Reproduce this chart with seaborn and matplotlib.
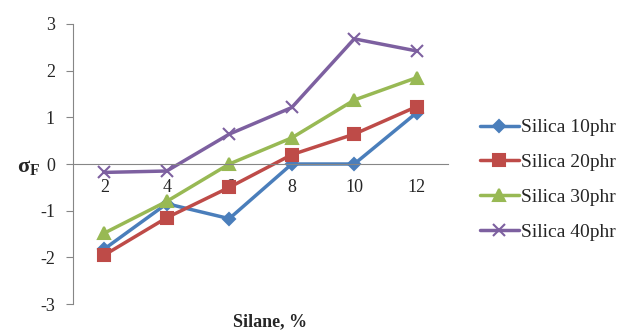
import numpy as np
import pandas as pd
import matplotlib
matplotlib.use("Agg")
import matplotlib.pyplot as plt
import seaborn as sns

sns.set_style("white")
plt.rcParams['font.family'] = ['Liberation Serif', 'DejaVu Serif']
plt.rcParams['axes.unicode_minus'] = False
plt.rcParams['mathtext.fontset'] = 'custom'
plt.rcParams['mathtext.rm'] = 'Liberation Serif'
plt.rcParams['mathtext.it'] = 'Liberation Serif:italic'
plt.rcParams['mathtext.bf'] = 'Liberation Serif:bold'

# --- data ---
silane = [2, 4, 6, 8, 10, 12]
silica_10 = [-1.82, -0.85, -1.17, 0.0, 0.0, 1.1]
silica_20 = [-1.95, -1.15, -0.5, 0.2, 0.64, 1.23]
silica_30 = [-1.48, -0.8, 0.0, 0.56, 1.37, 1.85]
silica_40 = [-0.18, -0.15, 0.64, 1.21, 2.68, 2.42]
series_names = ["Silica 10phr", "Silica 20phr", "Silica 30phr", "Silica 40phr"]

colors = ["#4A7EBB", "#BE4B48", "#98B954", "#7D60A0"]
markers = ["D", "s", "^", "x"]
msizes = [6, 9, 9, 9]

pos = np.arange(len(silane)) + 0.5  # category positions
df = pd.DataFrame({"pos": pos, "Silica 10phr": silica_10, "Silica 20phr": silica_20,
                   "Silica 30phr": silica_30, "Silica 40phr": silica_40})

fig = plt.figure(figsize=(6.24, 3.32), dpi=100)
ax = fig.add_axes([0.117, 0.084, 0.601, 0.844])

for name, c, m, ms in zip(series_names, colors, markers, msizes):
    sns.lineplot(data=df, x="pos", y=name, ax=ax, color=c, marker=m, markersize=ms,
                 markeredgecolor=c, markeredgewidth=1.5, linewidth=2.5, label=name)

ax.set_xlim(0, len(silane))
ax.set_ylim(-3, 3)
ax.set_yticks([-3, -2, -1, 0, 1, 2, 3])
ax.set_xticks(np.arange(len(silane) + 1))
ax.set_xticklabels([])
ax.set_xticks(pos, minor=True)
ax.set_xticklabels([str(s) for s in silane], minor=True)
ax.tick_params(axis="x", which="minor", length=0, labelsize=13, pad=11)
ax.tick_params(axis="x", which="major", length=5, color="#868686", direction="out")
ax.tick_params(axis="y", length=5, color="#868686", direction="out", labelsize=13, pad=8, left=True)

for s in ["top", "right"]:
    ax.spines[s].set_visible(False)
ax.spines["bottom"].set_position(("data", 0))
ax.spines["bottom"].set_color("#868686")
ax.spines["left"].set_color("#868686")

ax.set_xlabel("")
ax.set_ylabel("")
fig.text(0.432, 0.03, "Silane, %", ha="center", va="center", fontsize=13, fontweight="bold")
fig.text(0.045, 0.495, r"$\mathbf{\sigma_F}$", ha="center", va="center", fontsize=16)

ax.legend_.remove()
handles, labels = ax.get_legend_handles_labels()
fig.legend(handles, labels, loc="center left", bbox_to_anchor=(0.741, 0.459), frameon=False,
           fontsize=14, handlelength=2.0, handletextpad=0.1, labelspacing=0.88)

fig.savefig("out.png", dpi=100)
